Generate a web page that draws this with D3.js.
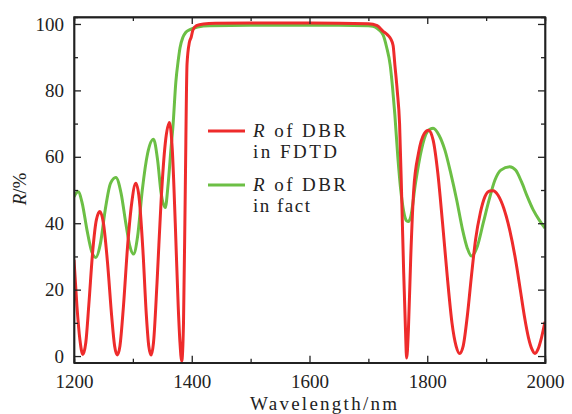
<!DOCTYPE html>
<html><head><meta charset="utf-8">
<script src="https://cdn.jsdelivr.net/npm/d3@7"></script>
<style>
body{margin:0;background:#fff;}
text{font-family:"Liberation Serif","Times New Roman",serif;fill:#222;}
</style></head>
<body>
<svg id="c" width="572" height="414"></svg>
<script>
const redWl = [1200,1205,1210,1215,1220,1225,1232,1238,1244,1250,1257,1264,1269,1273.5,1278,1284,1291,1298,1305,1311,1317,1323,1327,1331,1335,1341,1348,1355,1362,1367,1372,1377,1380,1383,1386,1389,1392,1396,1399,1402,1408,1420,1440,1500,1600,1700,1715,1725,1732,1738,1742,1745,1749,1753,1757,1760,1763,1765,1768,1772,1777,1785,1795,1802,1810,1818,1826,1834,1842,1849,1855,1861,1868,1875,1882,1890,1898,1906,1912,1920,1930,1940,1950,1958,1965,1972,1978,1983,1988,1994,2000];
const redR  = [29,15,5,0.5,4,15,32,41,43.5,40,28,12,3,0.3,3,15,33,46,52,47,32,12,3,0.3,4,22,47,64,70.3,62,40,15,4,-1.5,10,50,88,94.5,96,98.2,99.5,100,100.2,100.3,100.3,100.1,99.5,97.8,96.8,95.5,93.5,87.7,80,70,45,25,8,-0.6,8,30,50,61,67,68,65,55,40,24,10,3,0.8,3,12,24,35,43,48,49.7,49.8,48.5,44.5,38,29,20,12,5.5,2,0.8,2,5.5,10.3];
const greenWl = [1200,1207,1214,1222,1230,1237,1245,1253,1262,1271,1280,1288,1295,1301,1308,1316,1325,1335,1342,1348,1355,1360,1365,1368,1373,1377,1380,1385,1390,1397,1410,1430,1500,1650,1700,1708,1716,1725,1731,1737,1741,1745,1750,1755,1760,1765,1768,1772,1780,1790,1800,1810,1820,1830,1840,1850,1860,1868,1875,1885,1895,1905,1915,1925,1940,1950,1960,1970,1980,1990,2000];
const greenR  = [48,49.5,46,38,31.5,29.7,34,44,52,53.8,49,40,33,30.7,36,50,61,65.3,59,49,44.7,52,63,69,82.6,89,92.8,96,97.5,98.3,99.1,99.5,99.6,99.6,99.5,99.3,98.5,96.7,93,87.7,81,72.6,60,50,43.5,40.7,40.5,42,52,62,67.5,68.6,66.5,62,55,47,38,32.5,30.1,33,40,47,53,56,57,56,52.5,48,44,41,38.5];
const xMajor = [1200,1400,1600,1800,2000];
const yMajor = [0,20,40,60,80,100];
const legendLabels = [["R"," of DBR","in FDTD"],["R"," of DBR","in fact"]];
const colors = ["#ee2b2b","#6cbf45"];

const L=74,R=545,T=17,B=362.7;
const svg=d3.select("#c");
const x=d3.scaleLinear().domain([1200,2000]).range([L,R]);
const y=d3.scaleLinear().domain([-2,102.1]).range([B,T]);

svg.append("clipPath").attr("id","clip").append("rect").attr("x",L).attr("y",T).attr("width",R-L).attr("height",B-T);

const line=d3.line().x(d=>x(d[0])).y(d=>y(d[1])).curve(d3.curveMonotoneX);
const series=[d3.zip(redWl,redR), d3.zip(greenWl,greenR)];
const g=svg.append("g").attr("clip-path","url(#clip)");
g.append("path").datum(series[1]).attr("d",line).attr("fill","none").attr("stroke",colors[1]).attr("stroke-width",3);
g.append("path").datum(series[0]).attr("d",line).attr("fill","none").attr("stroke",colors[0]).attr("stroke-width",3);

const xMinor=d3.range(1200,2001,100), yMinor=d3.range(0,101,10);
const fs=19;
svg.append("g").attr("transform",`translate(0,${B})`).call(d3.axisBottom(x).tickValues(xMajor).tickSizeInner(-7).tickSizeOuter(0).tickPadding(12).tickFormat(d3.format("d")));
svg.append("g").attr("transform",`translate(0,${B})`).call(d3.axisBottom(x).tickValues(xMinor.filter(v=>!xMajor.includes(v))).tickSize(-4).tickFormat(""));
svg.append("g").attr("transform",`translate(0,${T})`).call(d3.axisTop(x).tickValues(xMajor).tickSizeInner(-7).tickSizeOuter(0).tickFormat(""));
svg.append("g").attr("transform",`translate(0,${T})`).call(d3.axisTop(x).tickValues(xMinor.filter(v=>!xMajor.includes(v))).tickSize(-4).tickFormat(""));
svg.append("g").attr("transform",`translate(${L},0)`).call(d3.axisLeft(y).tickValues(yMajor).tickSizeInner(-7).tickSizeOuter(0).tickPadding(10));
svg.append("g").attr("transform",`translate(${L},0)`).call(d3.axisLeft(y).tickValues(yMinor.filter(v=>!yMajor.includes(v))).tickSize(-4).tickFormat(""));
svg.append("g").attr("transform",`translate(${R},0)`).call(d3.axisRight(y).tickValues(yMajor).tickSizeInner(-7).tickSizeOuter(0).tickFormat(""));
svg.append("g").attr("transform",`translate(${R},0)`).call(d3.axisRight(y).tickValues(yMinor.filter(v=>!yMajor.includes(v))).tickSize(-4).tickFormat(""));
svg.selectAll(".domain").attr("stroke","#222").attr("stroke-width",1.4);
svg.selectAll(".tick line").attr("stroke","#222").attr("stroke-width",1.3);
svg.selectAll(".tick text").attr("font-family","Liberation Serif, serif").attr("font-size",fs).attr("fill","#222");
svg.append("rect").attr("x",L).attr("y",T).attr("width",R-L).attr("height",B-T).attr("fill","none").attr("stroke","#222").attr("stroke-width",1.4);

svg.append("text").attr("x",250).attr("y",410).attr("font-size",fs).attr("textLength",147).attr("lengthAdjust","spacing").text("Wavelength/nm");
const yl=svg.append("text").attr("transform","translate(26,189) rotate(-90)").attr("text-anchor","middle").attr("font-size",fs);
yl.append("tspan").attr("font-style","italic").text("R");
yl.append("tspan").text("/%");

const legY=[131,185];
const lenA=[93,93], lenB=[84,57];
legendLabels.forEach((lab,i)=>{
  svg.append("line").attr("x1",208).attr("x2",245).attr("y1",legY[i]).attr("y2",legY[i]).attr("stroke",colors[i]).attr("stroke-width",3);
  const t=svg.append("text").attr("x",253).attr("y",legY[i]+6).attr("font-size",fs).attr("textLength",lenA[i]).attr("lengthAdjust","spacing");
  t.append("tspan").attr("font-style","italic").text(lab[0]);
  t.append("tspan").text(lab[1]);
  svg.append("text").attr("x",253).attr("y",legY[i]+27).attr("font-size",fs).attr("textLength",lenB[i]).attr("lengthAdjust","spacing").text(lab[2]);
});
</script>
</body></html>
